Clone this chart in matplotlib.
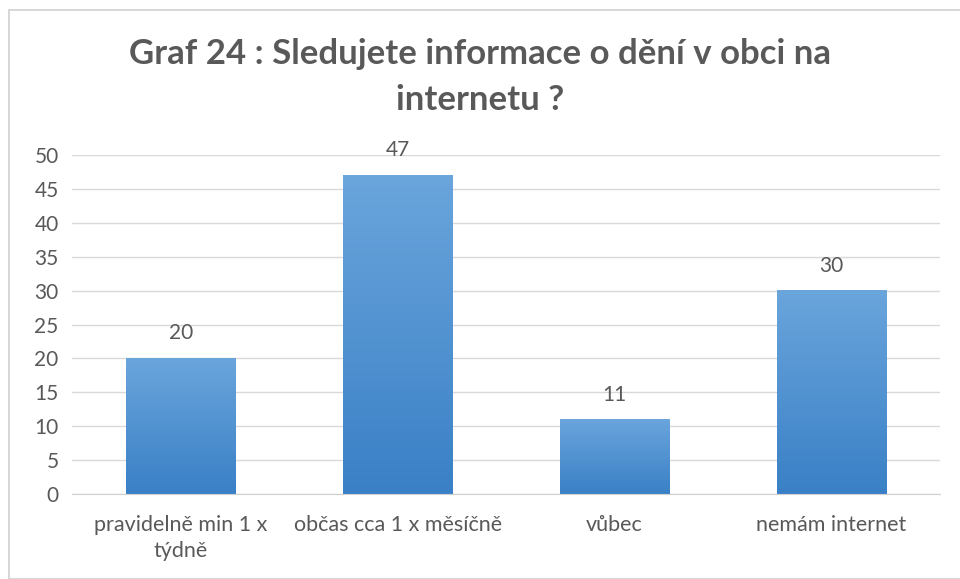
import numpy as np
import matplotlib.pyplot as plt
from matplotlib.colors import LinearSegmentedColormap
from matplotlib.patches import Rectangle

kategorie = ["pravidelně min 1 x\ntýdně", "občas cca 1 x měsíčně", "vůbec", "nemám internet"]
hodnoty = [20, 47, 11, 30]
titulek = "Graf 24 : Sledujete informace o dění v obci na\ninternetu ?"

plt.rcParams['font.family'] = ['Lato', 'DejaVu Sans']
sedy = '#595959'

fig = plt.figure(figsize=(9.6, 5.79), dpi=100)
ax = fig.add_axes([0.0755, 0.1468, 0.9035, 0.5855])

# rámeček kolem grafu
fig.patches.append(Rectangle((0.009, 0.0), 0.995, 0.983, transform=fig.transFigure,
                             fill=False, edgecolor='#d0d0d0', linewidth=1.2))

# sloupce s přechodem barvy
prechod = LinearSegmentedColormap.from_list('modra', ['#3a80c6', '#6aa5dc'])
grad = np.linspace(0, 1, 256).reshape(-1, 1)
sirka = 0.505
for i, v in enumerate(hodnoty):
    ax.imshow(grad, cmap=prechod, origin='lower', aspect='auto',
              extent=(i - sirka / 2, i + sirka / 2, 0, v), zorder=2)
    ax.text(i, v + 2.2, str(v), ha='center', va='bottom', fontsize=15, color=sedy)

ax.set_xlim(-0.5, len(hodnoty) - 0.5)
ax.set_ylim(0, 50)
ax.set_yticks(range(0, 51, 5))
ax.set_xticks(range(len(kategorie)))
ax.set_xticklabels(kategorie, fontsize=15.5, color=sedy, linespacing=1.4)
ax.tick_params(axis='y', labelsize=15, labelcolor=sedy, length=0, pad=10)
ax.tick_params(axis='x', length=0, pad=15)
ax.grid(axis='y', color='#d9d9d9', linewidth=1, zorder=0)
ax.set_axisbelow(True)
for s in ['top', 'right', 'left']:
    ax.spines[s].set_visible(False)
ax.spines['bottom'].set_color('#d0d0d0')

fig.text(0.5, 0.935, titulek, ha='center', va='top', fontsize=25, fontweight='bold',
         color=sedy, linespacing=1.55)

fig.savefig('out.png', dpi=100)
